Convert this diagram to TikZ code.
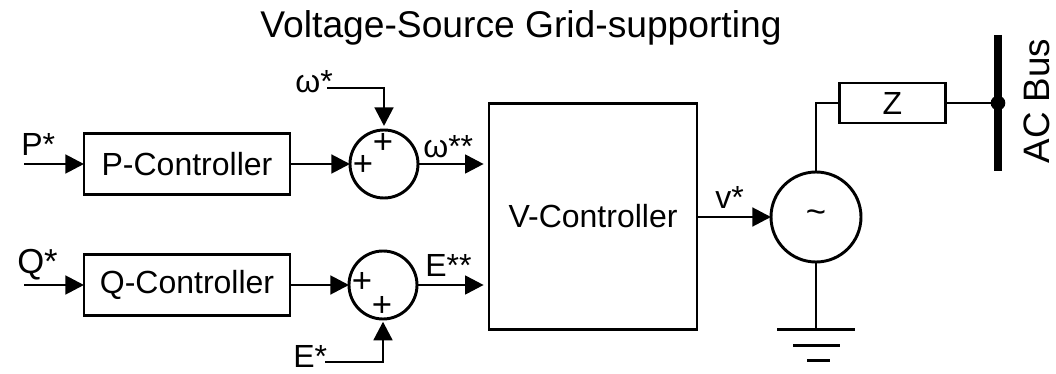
\documentclass[tikz,border=0pt]{standalone}
\usepackage{fontspec}
\setmainfont{Liberation Sans}
\usetikzlibrary{positioning,calc,arrows.meta}
\tikzset{>={Triangle[length=14pt,width=14pt]}}
\tikzset{
  block/.style={draw,line width=2.2pt,inner sep=0pt,outer sep=0pt,font=\fontsize{24}{28}\selectfont},
  sum/.style={draw,circle,line width=2.2pt,inner sep=0pt,outer sep=0pt,minimum size=51pt},
  lab/.style={inner sep=0pt,anchor=base west,font=\fontsize{24}{28}\selectfont},
  plus/.style={inner sep=0pt,font=\fontsize{26}{28}\selectfont},
  wire/.style={line width=2.2pt}
}
\begin{document}
\begin{tikzpicture}[x=0.75pt,y=-0.75pt]
\useasboundingbox (0,0) rectangle (1056,374);
\coordinate (Pin) at (24,164);
\coordinate (Qin) at (24,285);
\coordinate (Win) at (327,88);
\coordinate (Ein) at (325,362);
\coordinate (Bt) at (998,35);
\coordinate (Bb) at (998,171);
\node[inner sep=0pt,font=\fontsize{27.9}{32}\selectfont] (T) at (521,28) {Voltage-Source Grid-supporting};
\node[block,minimum width=154.5pt,minimum height=46pt] (PC) at (187,164) {P-Controller};
\node[block,minimum width=154.5pt,minimum height=46pt] (QC) at (187,285) {Q-Controller};
\node[block,minimum width=156pt,minimum height=170pt] (VC) at (593,216.5) {V-Controller};
\node[block,minimum width=80pt,minimum height=30pt] (Z) at (892.5,103) {Z};
\node[sum] (S1) at (384,164) {};
\node[sum] (S2) at (383,285) {};
\node[sum,minimum size=67.5pt,font=\fontsize{26}{28}\selectfont] (G) at (816,217) {\raisebox{-2pt}{\textasciitilde}};
\node[lab] (lP) at (21,156) {P*};
\node[lab,font=\fontsize{26}{28}\selectfont] (lQ) at (17,273) {Q*};
\node[lab] (lW) at (295,93) {ω*};
\node[lab] (lE) at (293,367) {E*};
\node[lab] (lW2) at (423,158) {ω**};
\node[lab] (lE2) at (425,276) {E**};
\node[lab] (lV) at (715,208) {v*};
\node[inner sep=0pt,rotate=90,font=\fontsize{27.6}{32}\selectfont] (lB) at (1037,101) {AC Bus};
\node[plus] (p1) at (383,143) {+};
\node[plus] (p2) at (363,165) {+};
\node[plus] (p3) at (362,282) {+};
\node[plus] (p4) at (382,306) {+};
\draw[wire,->] (Pin) -- (PC);
\draw[wire,->] (Qin) -- (QC);
\draw[wire,->] (PC) -- (S1);
\draw[wire,->] (QC) -- (S2);
\draw[wire,->,shorten >=3pt] (Win) -| (S1);
\draw[wire,->,shorten >=2pt] (Ein) -| (S2);
\draw[wire,->,shorten >=4pt] (S1) -- (S1 -| VC.west);
\draw[wire,->,shorten >=4pt] (S2) -- (S2 -| VC.west);
\draw[wire,->] (VC.east |- G) -- (G);
\draw[wire] (G) |- (Z);
\draw[wire] (Z) -- (Z -| Bt);
\draw[line width=6pt] (Bt) -- (Bb);
\fill (Z -| Bt) circle[radius=5.5pt];
\coordinate (g0) at (G |- VC.south);
\draw[wire] (G) -- (g0);
\draw[wire] ($(g0)+(-39,0)$) -- ($(g0)+(39,0)$);
\draw[wire] ($(g0)+(-23,16)$) -- ($(g0)+(24,16)$);
\draw[wire] ($(g0)+(-9,31)$) -- ($(g0)+(14,31)$);
\end{tikzpicture}
\end{document}
